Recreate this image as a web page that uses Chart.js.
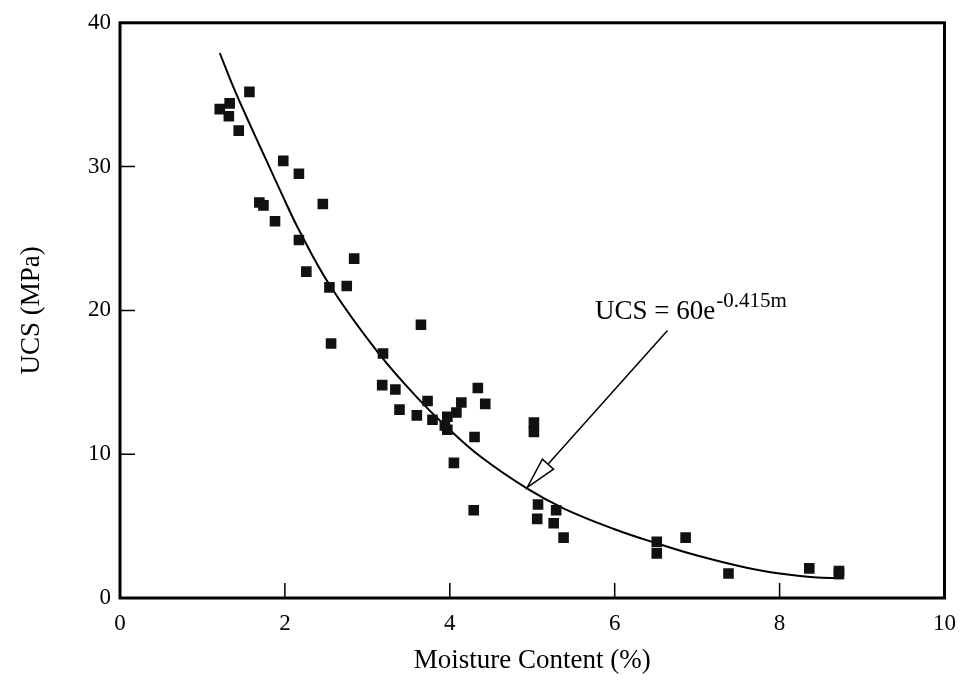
<!DOCTYPE html>
<html>
<head>
<meta charset="utf-8">
<script src="https://cdn.jsdelivr.net/npm/chart.js@4.4.1/dist/chart.umd.min.js"></script>
<style>
    html, body { margin: 0; padding: 0; background: #fff; }
    #wrap { width: 968px; height: 683px; }
</style>
</head>
<body>
<div id="wrap"><canvas id="ucsChart" width="968" height="683"></canvas></div>
<script>
// measured points: moisture content (%) and UCS (MPa)
const moisture = [1.21, 1.33, 1.32, 1.44, 1.57, 1.98, 2.17, 1.69, 1.74, 1.88, 2.17, 2.46, 2.26, 2.54, 2.75, 2.84, 2.56,
    3.65, 3.19, 3.18, 3.34, 3.39, 3.73, 3.60, 3.79, 3.94, 3.97, 4.08, 3.97, 4.14, 4.34, 4.43, 4.30, 5.02, 5.02,
    4.05, 4.29, 5.07, 5.06, 5.29, 5.26, 5.38, 6.51, 6.51, 6.86, 7.38, 8.36, 8.72, 8.72];
const ucs = [34.0, 34.4, 33.5, 32.5, 35.2, 30.4, 29.5, 27.5, 27.3, 26.2, 24.9, 27.4, 22.7, 21.6, 21.7, 23.6, 17.7,
    19.0, 17.0, 14.8, 14.5, 13.1, 13.7, 12.7, 12.4, 12.0, 12.6, 12.9, 11.7, 13.6, 14.6, 13.5, 11.2, 12.2, 11.55,
    9.4, 6.1, 6.5, 5.5, 6.1, 5.2, 4.2, 3.9, 3.1, 4.2, 1.7, 2.06, 1.88, 1.67];

// fitted curve
const fitX = [1.21, 1.37, 1.57, 1.77, 1.97, 2.17, 2.55, 3.14, 3.66, 3.98, 4.38, 4.94, 5.39, 5.99, 6.51, 7.0, 7.6, 8.0, 8.41, 8.77];
const fitY = [37.9, 35.6, 33.0, 30.5, 28.0, 25.6, 21.7, 17.0, 13.6, 11.8, 9.8, 7.6, 6.2, 4.8, 3.8, 2.95, 2.1, 1.7, 1.45, 1.37];

const xTicks = [0, 2, 4, 6, 8, 10];
const yTicks = [0, 10, 20, 30, 40];

const fitLabel = 'UCS = 60e';
const fitExp = '-0.415m';

const serif = '"Liberation Serif", "DejaVu Serif", serif';

function toPoints(xs, ys) {
    let pts = [];
    for (let i = 0; i < xs.length; i++)
        pts.push({x: xs[i], y: ys[i]});
    return pts;
}

// frame, inward ticks, equation and arrow
const decorations = {
    id: 'decorations',
    afterDatasetsDraw(chart) {
        const ctx = chart.ctx;
        const a = chart.chartArea;
        const sx = chart.scales.x, sy = chart.scales.y;
        ctx.save();
        ctx.strokeStyle = '#000';

        ctx.lineWidth = 1.5;
        ctx.beginPath();
        xTicks.slice(1, -1).forEach(v => {
            let px = sx.getPixelForValue(v);
            ctx.moveTo(px, a.bottom);
            ctx.lineTo(px, a.bottom - 15);
        });
        yTicks.slice(1, -1).forEach(v => {
            let py = sy.getPixelForValue(v);
            ctx.moveTo(a.left, py);
            ctx.lineTo(a.left + 15, py);
        });
        ctx.stroke();

        ctx.lineWidth = 3;
        ctx.strokeRect(a.left, a.top, a.right - a.left, a.bottom - a.top);

        // arrow
        let x0 = sx.getPixelForValue(6.64), y0 = sy.getPixelForValue(18.6);
        let x1 = sx.getPixelForValue(4.94), y1 = sy.getPixelForValue(7.7);
        let ang = Math.atan2(y1 - y0, x1 - x0);
        let hl = 31, hw = 7.5;
        let bx = x1 - hl * Math.cos(ang), by = y1 - hl * Math.sin(ang);
        ctx.lineWidth = 1.5;
        ctx.beginPath();
        ctx.moveTo(x0, y0);
        ctx.lineTo(bx, by);
        ctx.stroke();
        ctx.beginPath();
        ctx.moveTo(x1, y1);
        ctx.lineTo(bx + hw * Math.sin(ang), by - hw * Math.cos(ang));
        ctx.lineTo(bx - hw * Math.sin(ang), by + hw * Math.cos(ang));
        ctx.closePath();
        ctx.fillStyle = '#fff';
        ctx.fill();
        ctx.stroke();

        // equation
        ctx.fillStyle = '#000';
        ctx.textBaseline = 'alphabetic';
        ctx.textAlign = 'left';
        let tx = sx.getPixelForValue(5.76), ty = sy.getPixelForValue(19.4);
        ctx.font = '27px ' + serif;
        ctx.fillText(fitLabel, tx, ty);
        let w = ctx.measureText(fitLabel).width;
        ctx.font = '21px ' + serif;
        ctx.fillText(fitExp, tx + w + 1, ty - 12);
        ctx.restore();
    }
};

const data = {
    datasets: [{
            label: 'Measured',
            data: toPoints(moisture, ucs),
            showLine: false,
            pointStyle: 'rect',
            pointRadius: 7.5,
            pointHoverRadius: 7.5,
            backgroundColor: '#111',
            borderColor: '#111',
            borderWidth: 0
        }, {
            label: 'Fit',
            data: toPoints(fitX, fitY),
            showLine: true,
            pointRadius: 0,
            borderColor: '#000',
            borderWidth: 2,
            tension: 0.4,
            fill: false
        }]
};

const config = {
    type: 'scatter',
    data: data,
    options: {
        responsive: false,
        animation: false,
        layout: {
            padding: {top: 22, right: 20, left: 0, bottom: 0}
        },
        plugins: {
            legend: {display: false},
            tooltip: {enabled: false}
        },
        scales: {
            x: {
                type: 'linear',
                min: 0,
                max: 10,
                afterFit: function (scale) { scale.height = 85; },
                afterBuildTicks: function (scale) { scale.ticks = xTicks.map(v => ({value: v})); },
                grid: {display: false, drawTicks: false},
                border: {display: false},
                ticks: {
                    color: '#000',
                    padding: 12,
                    maxRotation: 0,
                    font: {family: serif, size: 23}
                },
                title: {
                    display: true,
                    text: 'Moisture Content (%)',
                    color: '#000',
                    padding: {top: 0, bottom: 6},
                    font: {family: serif, size: 27}
                }
            },
            y: {
                type: 'linear',
                min: 0,
                max: 40,
                afterFit: function (scale) { scale.width = 120; },
                afterBuildTicks: function (scale) { scale.ticks = yTicks.map(v => ({value: v})); },
                grid: {display: false, drawTicks: false},
                border: {display: false},
                ticks: {
                    color: '#000',
                    padding: 9,
                    font: {family: serif, size: 23}
                },
                title: {
                    display: true,
                    text: 'UCS (MPa)',
                    color: '#000',
                    padding: {top: 16, bottom: 0},
                    font: {family: serif, size: 27}
                }
            }
        }
    },
    plugins: [decorations]
};

let ctx = document.getElementById('ucsChart').getContext('2d');
new Chart(ctx, config);
</script>
</body>
</html>
